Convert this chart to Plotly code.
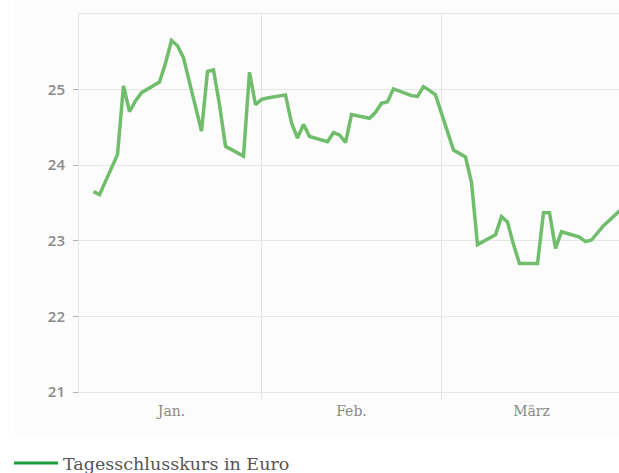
import plotly.graph_objects as go

dates = [
    "2018-01-04", "2018-01-05", "2018-01-08", "2018-01-09", "2018-01-10", "2018-01-11", "2018-01-12",
    "2018-01-15", "2018-01-16", "2018-01-17", "2018-01-18", "2018-01-19",
    "2018-01-22", "2018-01-23", "2018-01-24", "2018-01-25", "2018-01-26",
    "2018-01-29", "2018-01-30", "2018-01-31", "2018-02-01", "2018-02-02",
    "2018-02-05", "2018-02-06", "2018-02-07", "2018-02-08", "2018-02-09",
    "2018-02-12", "2018-02-13", "2018-02-14", "2018-02-15", "2018-02-16",
    "2018-02-19", "2018-02-20", "2018-02-21", "2018-02-22", "2018-02-23",
    "2018-02-26", "2018-02-27", "2018-02-28", "2018-03-01", "2018-03-02",
    "2018-03-05", "2018-03-06", "2018-03-07", "2018-03-08", "2018-03-09",
    "2018-03-12", "2018-03-13", "2018-03-14", "2018-03-15", "2018-03-16",
    "2018-03-19", "2018-03-20", "2018-03-21", "2018-03-22", "2018-03-23",
    "2018-03-26", "2018-03-27", "2018-03-28", "2018-03-29", "2018-03-30",
    "2018-04-02",
]
close_eur = [
    23.65, 23.61, 24.14, 25.05, 24.71, 24.85, 24.96,
    25.10, 25.35, 25.65, 25.58, 25.42,
    24.45, 25.24, 25.26, 24.80, 24.25,
    24.12, 25.23, 24.80, 24.87, 24.89,
    24.93, 24.56, 24.36, 24.54, 24.38,
    24.31, 24.43, 24.40, 24.30, 24.67,
    24.62, 24.70, 24.82, 24.84, 25.01,
    24.92, 24.91, 25.04, 24.99, 24.93,
    24.20, 24.15, 24.11, 23.77, 22.95,
    23.08, 23.32, 23.25, 22.95, 22.70,
    22.70, 23.37, 23.37, 22.90, 23.12,
    23.05, 22.99, 23.01, 23.10, 23.20,
    23.42,
]
series_name = "Tagesschlusskurs in Euro"
month_label_dates = ["2018-01-17", "2018-02-16", "2018-03-18"]
month_labels = ["Jan.", "Feb.", "März"]
grid_dates = ["2018-02-01", "2018-03-03"]
y_ticks = [21, 22, 23, 24, 25]
x_range = ["2018-01-01 14:00", "2018-04-01 14:00"]
y_range = [21, 26]

fig = go.Figure()
fig.add_trace(go.Scatter(
    x=dates, y=close_eur, mode="lines", name=series_name,
    line=dict(color="#70bd6c", width=3.5),
    showlegend=False,
))
# legend entry (brighter green sample line)
fig.add_trace(go.Scatter(
    x=[None], y=[None], mode="lines", name=series_name,
    line=dict(color="#1a9e3c", width=3),
))

fig.update_layout(
    width=619, height=473,
    margin=dict(l=79, r=0, t=14, b=81),
    paper_bgcolor="white",
    plot_bgcolor="rgba(0,0,0,0)",
    showlegend=True,
    legend=dict(
        orientation="h", xref="container", yref="container",
        x=0.0145, y=0.021, xanchor="left", yanchor="middle",
        font=dict(family="DejaVu Serif", size=17.5, color="#555555"),
        itemwidth=44, bgcolor="rgba(0,0,0,0)",
    ),
    shapes=[dict(
        type="rect", xref="paper", yref="paper", layer="below",
        x0=-64 / 540, x1=1.0, y0=-45 / 378, y1=1.0 + 14 / 378,
        fillcolor="#fcfcfc", line=dict(width=0),
    )],
    xaxis=dict(
        type="date", range=x_range,
        tickvals=month_label_dates, ticktext=month_labels,
        showgrid=False, ticks="", ticklen=0, ticklabelstandoff=6,
        tickfont=dict(family="DejaVu Serif", size=14, color="#8a8a8a"),
        showline=True, mirror=True, linecolor="#e6e6e6", linewidth=1,
        minor=dict(tickvals=grid_dates, showgrid=True, gridcolor="#e6e6e6",
                   gridwidth=1, ticks="outside", ticklen=7, tickcolor="#e6e6e6"),
        zeroline=False,
    ),
    yaxis=dict(
        range=y_range, tickvals=y_ticks,
        showgrid=True, gridcolor="#e6e6e6", gridwidth=1,
        ticks="outside", ticklen=5, tickcolor="#b0b0b0", tickwidth=1,
        ticklabelstandoff=5,
        tickfont=dict(family="Open Sans", size=15, color="#8a8a8a", weight=600),
        showline=True, linecolor="#e6e6e6", linewidth=1,
        zeroline=False,
    ),
)

fig.write_html("out.html")
